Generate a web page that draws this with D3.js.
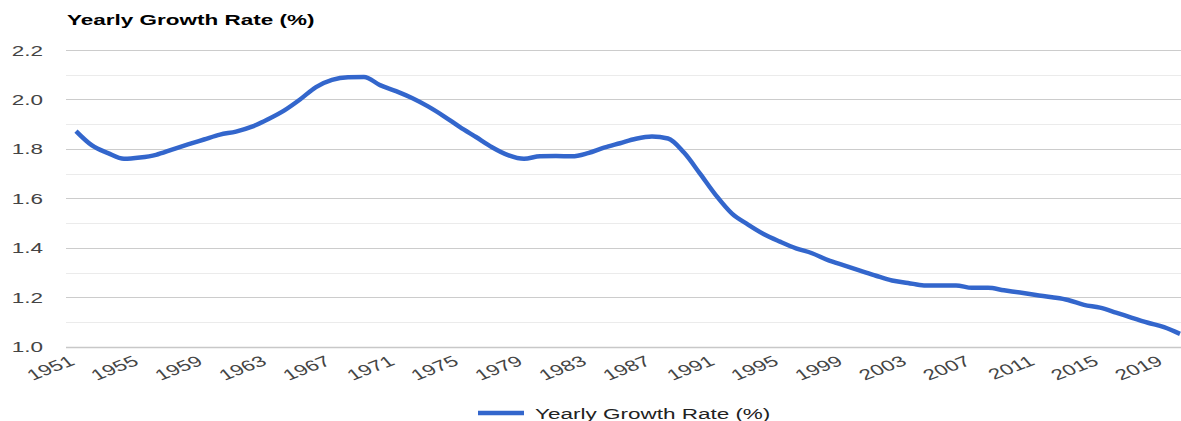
<!DOCTYPE html>
<html><head><meta charset="utf-8">
<script src="https://cdn.jsdelivr.net/npm/d3@7"></script>
<style>html,body{margin:0;padding:0;background:#fff;overflow:hidden}svg{display:block;font-family:Arial,"Liberation Sans",sans-serif}</style>
</head><body>
<svg id="chart" width="1181" height="421"></svg>
<script>
const years = [1951,1952,1953,1954,1955,1956,1957,1958,1959,1960,1961,1962,1963,1964,1965,1966,1967,1968,1969,1970,
1971,1972,1973,1974,1975,1976,1977,1978,1979,1980,1981,1982,1983,1984,1985,1986,1987,1988,1989,1990,
1991,1992,1993,1994,1995,1996,1997,1998,1999,2000,2001,2002,2003,2004,2005,2006,2007,2008,2009,2010,
2011,2012,2013,2014,2015,2016,2017,2018,2019,2020];
const growthRate = [1.872,1.814,1.783,1.760,1.765,1.776,1.797,1.818,1.838,1.858,1.870,1.890,1.920,1.955,2.000,2.050,2.079,2.090,2.091,2.058,
2.034,2.006,1.972,1.932,1.888,1.848,1.807,1.775,1.760,1.770,1.771,1.770,1.783,1.805,1.823,1.841,1.850,1.842,1.785,1.700,
1.612,1.538,1.494,1.455,1.425,1.398,1.378,1.350,1.329,1.308,1.287,1.268,1.258,1.248,1.248,1.248,1.238,1.238,1.228,1.219,
1.209,1.200,1.189,1.169,1.158,1.138,1.117,1.097,1.079,1.052];
const xTickYears = [1951,1955,1959,1963,1967,1971,1975,1979,1983,1987,1991,1995,1999,2003,2007,2011,2015,2019];
const yTickValues = [1.0,1.2,1.4,1.6,1.8,2.0,2.2];
const yMinorValues = [1.1,1.3,1.5,1.7,1.9,2.1];
const seriesName = "Yearly Growth Rate (%)";
const chartTitle = "Yearly Growth Rate (%)";

const svg = d3.select("#chart");
const SX = 1.5; // horizontal text stretch seen in reference
const x = d3.scaleLinear().domain([1951, 2020]).range([76, 1180]);
const y = d3.scaleLinear().domain([1.0, 2.2]).range([346.7, 50]);
const gridLeft = 66, gridRight = 1181;

// minor gridlines
svg.append("g").selectAll("line").data(yMinorValues).join("line")
  .attr("x1", gridLeft).attr("x2", gridRight)
  .attr("y1", d => Math.round(y(d)) + 0.5).attr("y2", d => Math.round(y(d)) + 0.5)
  .attr("stroke", "#ebebeb").attr("stroke-width", 1);
// major gridlines
svg.append("g").selectAll("line").data(yTickValues).join("line")
  .attr("x1", gridLeft).attr("x2", gridRight)
  .attr("y1", d => Math.round(y(d)) + 0.5).attr("y2", d => Math.round(y(d)) + 0.5)
  .attr("stroke", d => d === 1.0 ? "#c8c8c8" : "#cccccc").attr("stroke-width", d => d === 1.0 ? 1.5 : 1);

// y labels
svg.append("g").selectAll("g").data(yTickValues).join("g")
  .attr("transform", d => `translate(43,${y(d) + 5.5}) scale(${SX},1)`)
  .append("text").attr("text-anchor", "end").attr("font-size", 15).attr("fill", "#444")
  .text(d => d3.format(".1f")(d));

// x labels (slanted)
svg.append("g").selectAll("g").data(xTickYears).join("g")
  .attr("transform", d => `translate(${x(d)},364) scale(${SX},1) rotate(-30)`)
  .append("text").attr("text-anchor", "end").attr("font-size", 15).attr("fill", "#444")
  .text(d => d);

// line
const line = d3.line().x((d, i) => x(years[i])).y(d => y(d)).curve(d3.curveMonotoneX);
svg.append("path").datum(growthRate).attr("d", line)
  .attr("fill", "none").attr("stroke", "#3366cc").attr("stroke-width", 4.5)
  .attr("stroke-linejoin", "round");

// title
svg.append("g").attr("transform", `translate(67,25) scale(${SX},1)`)
  .append("text").attr("font-size", 15).attr("font-weight", "bold").attr("fill", "#000")
  .text(chartTitle);

// legend
svg.append("line").attr("x1", 478).attr("x2", 524).attr("y1", 413).attr("y2", 413)
  .attr("stroke", "#3366cc").attr("stroke-width", 4.5);
svg.append("g").attr("transform", `translate(535,419) scale(${SX},1)`)
  .append("text").attr("font-size", 15).attr("fill", "#222").text(seriesName);
</script>
</body></html>
